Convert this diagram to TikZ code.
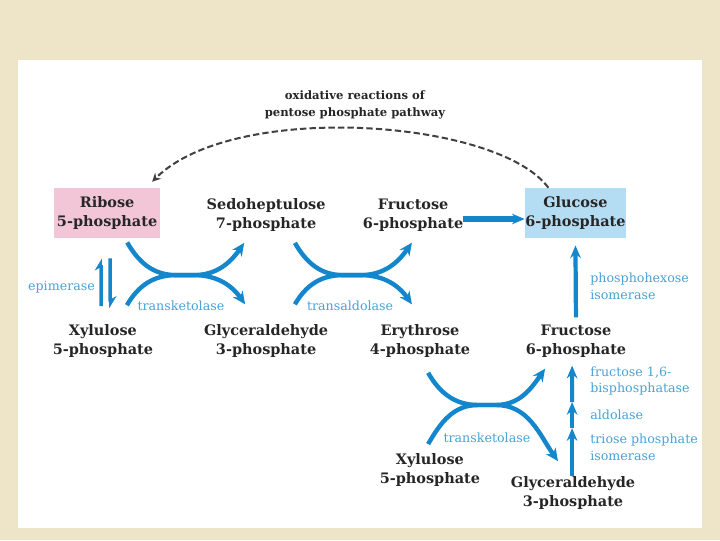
\documentclass[tikz,border=0pt]{standalone}
\usepackage{fontspec}
\setmainfont{DejaVu Serif}
\usetikzlibrary{arrows.meta}

\definecolor{parchment}{RGB}{238,228,200}
\definecolor{pathblue}{RGB}{20,134,204}
\definecolor{enzblue}{RGB}{74,162,214}
\definecolor{ribpink}{RGB}{242,198,215}
\definecolor{glcblue}{RGB}{180,221,244}

\tikzset{
  metab/.style={font=\fontsize{13.7}{18}\selectfont\bfseries, align=center, inner sep=0pt, text=black!85},
  enzyme/.style={font=\fontsize{12}{16}\selectfont, text=enzblue, align=left, inner sep=0pt},
  flow/.style={draw=pathblue, line width=4.2pt, -{Stealth[length=12pt,width=11pt]}},
  upflow/.style={draw=pathblue, line width=4pt, -{Stealth[length=12pt,width=10pt]}},
  epi/.style={draw=pathblue, line width=3.2pt, -{Stealth[harpoon,length=10pt,width=12pt]}},
  oxid/.style={draw=black!75, line width=1.9pt, dash pattern=on 6pt off 3pt, -{Stealth[length=8pt,width=8pt]}}
}

\begin{document}
\begin{tikzpicture}
\useasboundingbox (0,0) rectangle (24,18);
\fill[parchment] (0,0) rectangle (24,18);
\fill[white] (0.6,0.4) rectangle (23.4,16);

% top row
\node[metab, fill=ribpink, minimum width=3.53cm, minimum height=1.67cm] (ribose) at (3.57,10.9) {Ribose\\5-phosphate};
\node[metab] (sedo) at (8.87,10.83) {Sedoheptulose\\7-phosphate};
\node[metab] (fru1) at (13.77,10.83) {Fructose\\6-phosphate};
\node[metab, fill=glcblue, minimum width=3.37cm, minimum height=1.67cm] (glc) at (19.18,10.9) {Glucose\\6-phosphate};

% second row
\node[metab] (xyl1) at (3.43,6.63) {Xylulose\\5-phosphate};
\node[metab] (gap1) at (8.87,6.63) {Glyceraldehyde\\3-phosphate};
\node[metab] (ery) at (14.0,6.63) {Erythrose\\4-phosphate};
\node[metab] (fru2) at (19.2,6.63) {Fructose\\6-phosphate};

% bottom row
\node[metab] (xyl2) at (14.33,2.33) {Xylulose\\5-phosphate};
\node[metab] (gap2) at (19.1,1.57) {Glyceraldehyde\\3-phosphate};

% oxidative branch
\node[metab, font=\fontsize{11}{16}\selectfont\bfseries] (oxtext) at (11.83,14.5) {oxidative reactions of\\pentose phosphate pathway};
\draw[oxid] ([xshift=-0.9cm]glc.north) .. controls +(-1.7,2.3) and +(2.7,2.7) .. ([xshift=-0.27cm,yshift=0.2cm]ribose.north east);

% crossing points (short shared stretch in the middle)
\coordinate (tkA1) at (5.87,8.83);  \coordinate (tkA2) at (6.47,8.83);
\coordinate (taB1) at (11.43,8.83); \coordinate (taB2) at (12.03,8.83);
\coordinate (tkC1) at (15.93,4.5);  \coordinate (tkC2) at (16.53,4.5);

\draw[flow] ([xshift=0.67cm,yshift=-0.14cm]ribose.south) to[out=-60,in=180] (tkA1) -- (tkA2) to[out=0,in=-125] ([xshift=-0.73cm,yshift=-0.37cm]sedo.south);
\draw[flow] ([xshift=0.8cm,yshift=0.64cm]xyl1.north) to[out=60,in=180] (tkA1) -- (tkA2) to[out=0,in=125] ([xshift=-0.7cm,yshift=0.67cm]gap1.north);

\draw[flow] ([xshift=0.96cm,yshift=-0.37cm]sedo.south) to[out=-60,in=180] (taB1) -- (taB2) to[out=0,in=-125] ([xshift=-0.04cm,yshift=-0.37cm]fru1.south);
\draw[flow] ([xshift=0.96cm,yshift=0.67cm]gap1.north) to[out=60,in=180] (taB1) -- (taB2) to[out=0,in=125] ([xshift=-0.27cm,yshift=0.67cm]ery.north);

\draw[flow] ([xshift=0.27cm,yshift=-0.5cm]ery.south) to[out=-60,in=180] (tkC1) -- (tkC2) to[out=0,in=-125] ([xshift=-1.03cm,yshift=-0.37cm]fru2.south);
\draw[flow] ([xshift=-0.06cm,yshift=0.31cm]xyl2.north) to[out=60,in=180] (tkC1) -- (tkC2) to[out=0,in=125] ([xshift=-0.5cm,yshift=0.5cm]gap2.north);

% epimerase
\draw[epi, shorten <=0.61cm, shorten >=0.67cm] ([xshift=-0.06cm]xyl1.north) -- ([xshift=-0.2cm]ribose.south);
\draw[epi, shorten <=0.67cm, shorten >=0.54cm] ([xshift=0.1cm]ribose.south) -- ([xshift=0.24cm]xyl1.north);

% to glucose 6-phosphate
\draw[upflow, line width=5pt] ([yshift=-0.13cm]fru1.east) -- ([yshift=-0.13cm]fru1.east -| glc.west);
\draw[upflow, shorten <=0.24cm, shorten >=0.24cm] (fru2.north) -- (glc.south);

% triose steps
\coordinate (tpi) at (19.07,3.73);
\coordinate (ald) at (19.07,4.6);
\draw[upflow] ([xshift=-0.03cm]gap2.north) -- (tpi);
\draw[upflow] (tpi) -- (ald);
\draw[upflow, shorten >=0.27cm] (ald) -- ([xshift=-0.13cm]fru2.south);

% enzymes
\node[enzyme] (tkl1) at (6.03,7.8) {transketolase};
\node[enzyme] (tal) at (11.67,7.8) {transaldolase};
\node[enzyme] (tkl2) at (16.23,3.4) {transketolase};
\node[enzyme] (epim) at (2.05,8.43) {epimerase};
\node[enzyme, anchor=west] (phi) at (19.67,8.47) {phosphohexose\\isomerase};
\node[enzyme, anchor=west] (fbp) at (19.67,5.3) {fructose 1,6-\\bisphosphatase};
\node[enzyme, anchor=west] (aldo) at (19.67,4.17) {aldolase};
\node[enzyme, anchor=west] (tpim) at (19.67,3.08) {triose phosphate\\isomerase};

\end{tikzpicture}
\end{document}
